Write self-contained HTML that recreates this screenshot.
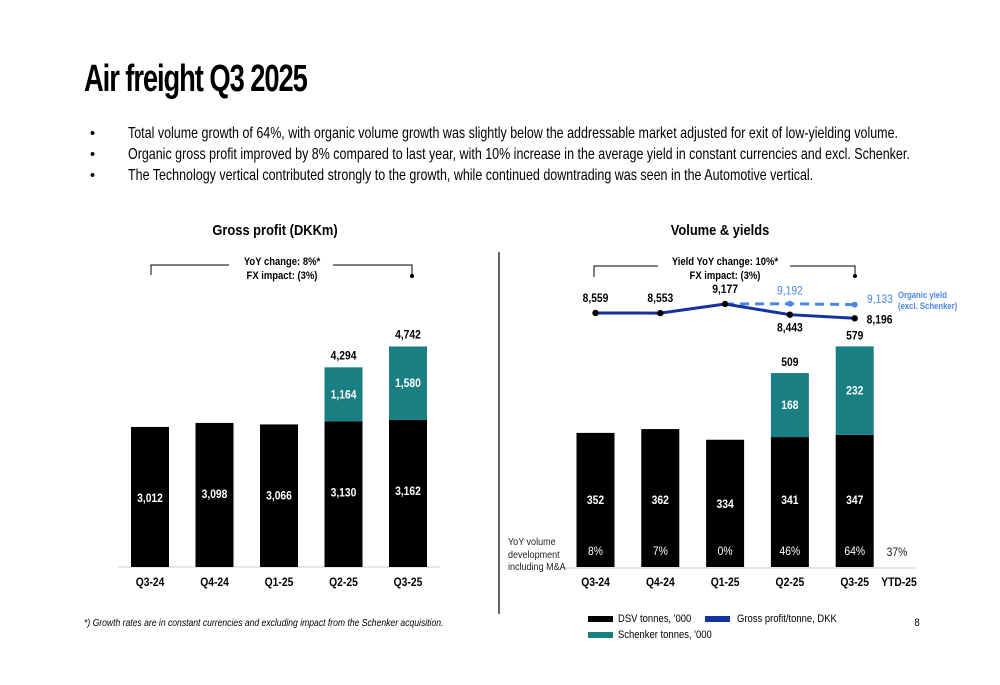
<!DOCTYPE html>
<html><head><meta charset="utf-8">
<style>
html,body{margin:0;padding:0;background:#fff;}
body{width:1000px;height:685px;overflow:hidden;position:relative;font-family:"Liberation Sans",Arial,sans-serif;}
.title{position:absolute;left:84px;top:58px;font-size:38px;font-weight:bold;letter-spacing:-1.5px;color:#000;transform:scaleX(0.72);transform-origin:left top;white-space:nowrap;}
.bul{position:absolute;left:90px;font-size:14.5px;color:#000;}
.bul span{position:absolute;left:38px;top:-1px;white-space:nowrap;font-size:16px;transform:scaleX(0.78);transform-origin:left top;}
svg text{transform-box:fill-box;transform:scaleX(0.86);transform-origin:center;}
svg text.st{transform-origin:left center;}
svg text.en{transform-origin:right center;}
</style></head><body>
<div class="title">Air freight Q3 2025</div>
<div class="bul" style="top:126px">•<span>Total volume growth of 64%, with organic volume growth was slightly below the addressable market adjusted for exit of low-yielding volume.</span></div>
<div class="bul" style="top:147px">•<span>Organic gross profit improved by 8% compared to last year, with 10% increase in the average yield in constant currencies and excl. Schenker.</span></div>
<div class="bul" style="top:168px">•<span>The Technology vertical contributed strongly to the growth, while continued downtrading was seen in the Automotive vertical.</span></div>
<svg id="chart" width="1000" height="685" style="position:absolute;left:0;top:0" font-family="Liberation Sans, Arial, sans-serif">
<text x="275" y="235" font-size="15" font-weight="bold" text-anchor="middle">Gross profit (DKKm)</text>
<text x="720" y="235" font-size="15" font-weight="bold" text-anchor="middle">Volume &amp; yields</text>
<g stroke="#000" fill="none" stroke-width="1">
<path d="M151,275 V265 H229 M333,265 H412 V276"/></g>
<circle cx="412" cy="276" r="2" fill="#000"/>
<text x="282" y="265" font-size="11" font-weight="bold" text-anchor="middle">YoY change: 8%*</text>
<text x="282" y="279" font-size="11" font-weight="bold" text-anchor="middle">FX impact: (3%)</text>
<g stroke="#000" fill="none" stroke-width="1">
<path d="M594,277 V266 H658 M790,266 H855 V276"/></g>
<circle cx="855" cy="276" r="2" fill="#000"/>
<text x="725" y="265" font-size="11" font-weight="bold" text-anchor="middle">Yield YoY change: 10%*</text>
<text x="725" y="279" font-size="11" font-weight="bold" text-anchor="middle">FX impact: (3%)</text>
<line x1="499" y1="252" x2="499" y2="614" stroke="#333" stroke-width="1.5"/>
<line x1="118" y1="567" x2="440" y2="567" stroke="#ddd" stroke-width="1.5"/>
<line x1="563" y1="568" x2="917" y2="568" stroke="#ddd" stroke-width="1.5"/>
<text class="st" x="508" y="545" font-size="10.5" fill="#222">YoY volume</text>
<text class="st" x="508" y="558" font-size="10.5" fill="#222">development</text>
<text class="st" x="508" y="570" font-size="10.5" fill="#222">including M&amp;A</text>
<text x="897" y="556" font-size="12" text-anchor="middle" fill="#222">37%</text>
<text x="899" y="586" font-size="12" font-weight="bold" text-anchor="middle">YTD-25</text>
<text class="st" x="867" y="303" font-size="12" fill="#4a86e8">9,133</text>
<text class="st" x="898" y="298" font-size="9" font-weight="bold" fill="#4a86e8">Organic yield</text>
<text class="st" x="898" y="309" font-size="9" font-weight="bold" fill="#4a86e8">(excl. Schenker)</text>
<text class="st" x="84" y="626" font-size="10" font-style="italic">*) Growth rates are in constant currencies and excluding impact from the Schenker acquisition.</text>
<text x="914" y="626" font-size="11">8</text>
<g>
<rect x="588" y="616" width="25" height="6" fill="#000"/>
<text class="st" x="618" y="622" font-size="11">DSV tonnes, '000</text>
<rect x="705" y="616" width="25" height="6" fill="#1432a0"/>
<text class="st" x="737" y="622" font-size="11">Gross profit/tonne, DKK</text>
<rect x="588" y="632" width="25" height="6" fill="#1a7f82"/>
<text class="st" x="618" y="638" font-size="11">Schenker tonnes, '000</text>
</g>
</svg>
<script>
const gpCategories=["Q3-24","Q4-24","Q1-25","Q2-25","Q3-25"];
const gpDsv=[3012,3098,3066,3130,3162];
const gpSchenker=[0,0,0,1164,1580];
const volCategories=["Q3-24","Q4-24","Q1-25","Q2-25","Q3-25"];
const volDsv=[352,362,334,341,347];
const volSchenker=[0,0,0,168,232];
const volGrowth=["8%","7%","0%","46%","64%"];
const yieldTotal=[8559,8553,9177,8443,8196];
const yieldOrganic=[null,null,9177,9192,9133];
const NS="http://www.w3.org/2000/svg";
const svg=document.getElementById('chart');
const fmt=v=>v.toLocaleString('en-US');
function mk(tag,attrs,txt){const e=document.createElementNS(NS,tag);for(const k in attrs)e.setAttribute(k,attrs[k]);if(txt!==undefined)e.textContent=txt;svg.appendChild(e);return e;}
const gpX=i=>150+i*64.5, gpBase=567, gpS=v=>v*0.0465;
gpCategories.forEach((c,i)=>{
  const x=gpX(i), h1=gpS(gpDsv[i]), h2=gpS(gpSchenker[i]);
  const b=mk('rect',{x:x-19,y:gpBase-h1,width:38,height:h1,fill:'#000'});
  
  
  const t=mk('text',{x:x,y:gpBase-h1+75,'font-size':12,'font-weight':'bold',fill:'#fff','text-anchor':'middle'},fmt(gpDsv[i]));
  
  
  let top=gpBase-h1;
  if(gpSchenker[i]>0){
    const s=mk('rect',{x:x-19,y:top-h2,width:38,height:h2,fill:'#1a7f82'});
    
    
    const st=mk('text',{x:x,y:top-h2/2+4,'font-size':12,'font-weight':'bold',fill:'#fff','text-anchor':'middle'},fmt(gpSchenker[i]));
    
    
    top-=h2;
    const tt=mk('text',{x:x,y:top-8,'font-size':12,'font-weight':'bold','text-anchor':'middle'},fmt(gpDsv[i]+gpSchenker[i]));
    
    
  }
  const l=mk('text',{x:x,y:586,'font-size':12,'font-weight':'bold','text-anchor':'middle'},c);
  
  
});
const vX=i=>595.5+i*64.8, vBase=567, vS=v=>v*0.381;
volCategories.forEach((c,i)=>{
  const x=vX(i), h1=vS(volDsv[i]), h2=vS(volSchenker[i]);
  const b=mk('rect',{x:x-19,y:vBase-h1,width:38,height:h1,fill:'#000'});
  
  
  const t=mk('text',{x:x,y:i==2?508:504,'font-size':12,'font-weight':'bold',fill:'#fff','text-anchor':'middle'},fmt(volDsv[i]));
  
  
  const g=mk('text',{x:x,y:555,'font-size':12,fill:'#fff','text-anchor':'middle'},volGrowth[i]);
  
  
  let top=vBase-h1;
  if(volSchenker[i]>0){
    const s=mk('rect',{x:x-19,y:top-h2,width:38,height:h2,fill:'#1a7f82'});
    
    
    const st=mk('text',{x:x,y:top-h2/2+4,'font-size':12,'font-weight':'bold',fill:'#fff','text-anchor':'middle'},fmt(volSchenker[i]));
    
    
    top-=h2;
    const tt=mk('text',{x:x,y:top-7,'font-size':12,'font-weight':'bold','text-anchor':'middle'},fmt(volDsv[i]+volSchenker[i]));
    
    
  }
  const l=mk('text',{x:x,y:586,'font-size':12,'font-weight':'bold','text-anchor':'middle'},c);
  
  
});
const yY=v=>313-(v-8559)*0.0146;
let op='';yieldOrganic.forEach((v,i)=>{if(v!==null)op+=(op?'L':'M')+vX(i)+','+yY(v);});
const od=mk('path',{d:op,fill:'none',stroke:'#4a86e8','stroke-width':3,'stroke-dasharray':'9,6'});


let tp='';yieldTotal.forEach((v,i)=>{tp+=(i?'L':'M')+vX(i)+','+yY(v);});
const tl=mk('path',{d:tp,fill:'none',stroke:'#1432a0','stroke-width':3});


yieldOrganic.forEach((v,i)=>{if(v!==null&&i>2){
  const p=mk('circle',{cx:vX(i),cy:yY(v),r:3,fill:'#4a86e8'});
  
  
  if(i<4){const t=mk('text',{x:vX(i),y:yY(v)-9,'font-size':12,fill:'#4a86e8','text-anchor':'middle'},fmt(v));
  
  }
}});
yieldTotal.forEach((v,i)=>{
  const p=mk('circle',{cx:vX(i),cy:yY(v),r:3.2,fill:'#000'});
  
  
  let a={x:vX(i),y:yY(v)-11,'font-size':12,'font-weight':'bold','text-anchor':'middle'};
  if(i==3)a.y=yY(v)+17;
  if(i==4){a.x=vX(i)+12;a.y=yY(v)+5;a['text-anchor']='start';a['class']='st';}
  const t=mk('text',a,fmt(v));
  
  
});
</script>
</body></html>
